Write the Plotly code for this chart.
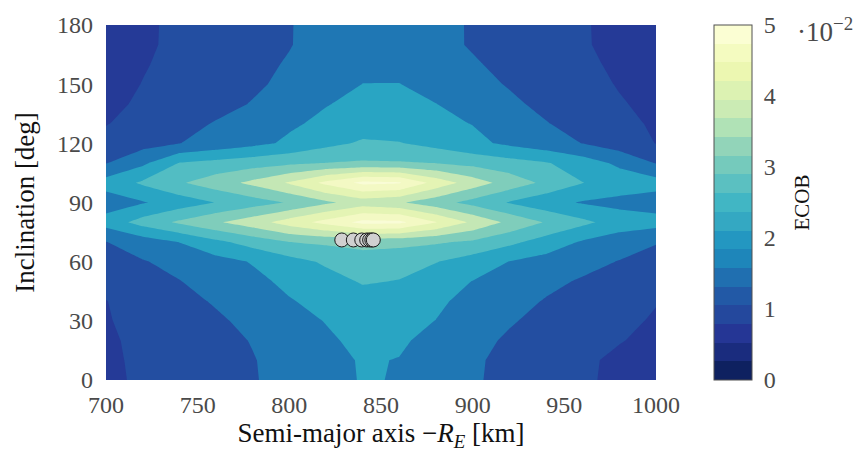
import plotly.graph_objects as go

# ---------------- data ----------------
altitude_km = [700, 720, 740, 760, 780, 800, 820, 840, 860, 880, 900, 920, 940, 960, 980, 1000]
inclination_deg = [0, 10, 20, 30, 40, 50, 60, 70, 80, 90, 100, 110, 120, 130, 140, 150, 160, 170, 180]

# ECOB values in units of 1e-2, one row per inclination
ecob_r000 = [0.92, 1.06, 1.19, 1.33, 1.47, 1.645, 1.84, 2.03, 1.98, 1.76, 1.55, 1.38, 1.22, 1.06, 0.91, 0.85]
ecob_r010 = [0.93, 1.07, 1.20, 1.34, 1.48, 1.65, 1.85, 2.04, 1.985, 1.77, 1.56, 1.39, 1.23, 1.07, 0.92, 0.86]
ecob_r020 = [0.94, 1.09, 1.23, 1.37, 1.52, 1.72, 1.92, 2.13, 2.07, 1.85, 1.63, 1.44, 1.30, 1.16, 1.02, 0.90]
ecob_r030 = [0.97, 1.13, 1.28, 1.43, 1.62, 1.82, 2.02, 2.165, 2.11, 1.995, 1.77, 1.54, 1.38, 1.24, 1.10, 0.955]
ecob_r040 = [0.99, 1.18, 1.36, 1.545, 1.76, 1.97, 2.14, 2.31, 2.23, 2.07, 1.88, 1.67, 1.47, 1.31, 1.16, 1.02]
ecob_r050 = [1.17, 1.33, 1.485, 1.68, 1.885, 2.10, 2.32, 2.54, 2.48, 2.21, 1.99, 1.80, 1.61, 1.45, 1.325, 1.20]
ecob_r060 = [1.35, 1.47, 1.635, 1.83, 2.03, 2.32, 2.57, 2.75, 2.68, 2.52, 2.26, 1.99, 1.82, 1.65, 1.48, 1.38]
ecob_r070 = [1.49, 1.745, 2.01, 2.38, 2.703, 3.0, 3.089, 3.178, 3.14, 3.06, 2.925, 2.625, 2.281, 1.947, 1.733, 1.52]
ecob_r080 = [2.2, 2.696, 3.08, 3.434, 3.788, 4.229, 4.669, 5.15, 5.12, 4.513, 3.915, 3.386, 2.966, 2.62, 2.28, 2.2]
ecob_r090 = [1.75, 1.96, 2.231, 2.515, 2.772, 3.04, 3.408, 3.725, 3.563, 3.204, 2.831, 2.465, 2.172, 1.957, 1.85, 1.75]
ecob_r100 = [2.2, 2.574, 2.944, 3.271, 3.62, 4.057, 4.625, 5.12, 5.05, 4.32, 3.761, 3.289, 2.894, 2.51, 2.3, 2.2]
ecob_r110 = [1.48, 1.896, 2.519, 2.647, 2.776, 2.904, 3.013, 3.067, 3.046, 2.99, 2.846, 2.692, 2.538, 2.25, 1.896, 1.48]
ecob_r120 = [1.15, 1.325, 1.49, 1.685, 1.87, 2.083, 2.361, 2.567, 2.525, 2.337, 2.12, 1.908, 1.704, 1.49, 1.25, 0.99]
ecob_r130 = [0.98, 1.162, 1.345, 1.53, 1.73, 1.93, 2.103, 2.26, 2.217, 2.106, 1.988, 1.756, 1.523, 1.32, 1.12, 0.94]
ecob_r140 = [0.9, 1.061, 1.212, 1.364, 1.523, 1.751, 1.979, 2.118, 2.088, 2.006, 1.801, 1.586, 1.392, 1.212, 1.032, 0.9]
ecob_r150 = [0.85, 1.01, 1.15, 1.29, 1.43, 1.6, 1.8, 2.005, 2.01, 1.833, 1.648, 1.467, 1.3, 1.133, 0.975, 0.85]
ecob_r160 = [0.8, 0.97, 1.114, 1.252, 1.39, 1.537, 1.72, 1.904, 1.839, 1.692, 1.544, 1.39, 1.233, 1.077, 0.932, 0.8]
ecob_r170 = [0.78, 0.939, 1.082, 1.215, 1.349, 1.482, 1.664, 1.853, 1.78, 1.62, 1.464, 1.32, 1.176, 1.032, 0.904, 0.78]
ecob_r180 = [0.77, 0.935, 1.08, 1.213, 1.347, 1.48, 1.66, 1.85, 1.78, 1.62, 1.463, 1.318, 1.174, 1.03, 0.9, 0.77]

ecob = [ecob_r000, ecob_r010, ecob_r020, ecob_r030, ecob_r040, ecob_r050, ecob_r060,
        ecob_r070, ecob_r080, ecob_r090, ecob_r100, ecob_r110, ecob_r120, ecob_r130,
        ecob_r140, ecob_r150, ecob_r160, ecob_r170, ecob_r180]

# satellites (grey markers)
sat_altitude = [828.6, 834.9, 839.5, 842.2, 843.8, 845.0, 845.8]
sat_inclination = [71, 71, 71, 71, 71, 71, 71]

cb_tickvals = [0, 1, 2, 3, 4, 5]
x_tickvals = [700, 750, 800, 850, 900, 950, 1000]
y_tickvals = [0, 30, 60, 90, 120, 150, 180]

# ---------------- styles ----------------
FONT = "Liberation Serif"
TICK_SIZE = 24
TITLE_SIZE = 27
TICK_COLOR = "#4a4a4a"

# colours of filled contour regions: <0.5, 0.5-1, 1-1.5, ..., 4.5-5, >5
region_colors = ["#131f66", "#253a97", "#234ea1", "#1f77b4", "#29a5c3", "#52bdc3",
                 "#7fcdbb", "#c4e7b5", "#e4f4b4", "#f3f9c4", "#f9fcd6"]
n = len(region_colors) - 1
bounds = [0.0] + [round((i + 0.5) / n, 6) for i in range(n)] + [1.0]
region_scale = []
for i, c in enumerate(region_colors):
    region_scale.append([bounds[i], c])
    region_scale.append([bounds[i + 1], c])

# colour bar (19 discrete YlGnBu bands)
cb_colors = ["#0e2160", "#1a2c7e", "#253695", "#24489d", "#2259a6", "#206fb0", "#1e86ba",
             "#2397c1", "#34a8c2", "#41b6c4", "#5bc0c1", "#75cabc", "#92d4b9", "#b0e2b6",
             "#cbebb4", "#dcf2b2", "#ecf7b1", "#f4fbc0", "#fbfed3"]
m = len(cb_colors)
cb_bounds = [round(i / m, 6) for i in range(m)] + [1.0]
cb_scale = []
for i, c in enumerate(cb_colors):
    cb_scale.append([cb_bounds[i], c])
    cb_scale.append([cb_bounds[i + 1], c])

fig = go.Figure()
fig.add_trace(go.Contour(
    x=altitude_km, y=inclination_deg, z=ecob,
    autocontour=False,
    contours=dict(start=0.5, end=5.0, size=0.5, coloring="fill", showlines=False),
    line=dict(width=0, smoothing=0),
    colorscale=region_scale, showscale=False, hoverinfo="skip",
))
fig.add_trace(go.Scatter(
    x=sat_altitude, y=sat_inclination, mode="markers",
    marker=dict(size=14, color="#d0d0d0", line=dict(color="#1a1a1a", width=1)),
    showlegend=False, hoverinfo="skip",
))

plot_w = 860 - 106 - 204
cb_x = (714 - 106) / plot_w
cb_w = 38 / plot_w
fig.add_trace(go.Scatter(
    x=[None], y=[None], mode="markers", showlegend=False, hoverinfo="skip",
    marker=dict(
        color=[0], cmin=0, cmax=5, colorscale=cb_scale, showscale=True,
        colorbar=dict(
            x=cb_x, xanchor="left", xpad=0, y=0.5, yanchor="middle", ypad=0,
            len=1, lenmode="fraction", thickness=38, thicknessmode="pixels",
            outlinecolor="#505050", outlinewidth=1,
            tickvals=cb_tickvals, ticktext=[str(v) for v in cb_tickvals],
            ticks="outside", ticklen=7, tickcolor="rgba(0,0,0,0)",
            tickfont=dict(family=FONT, size=TICK_SIZE, color=TICK_COLOR),
        ),
    ),
))

# inner tick dashes of the colour bar (both sides)
for v in cb_tickvals[1:-1]:
    for x0, x1 in ((cb_x, cb_x + 9 / plot_w), (cb_x + cb_w - 9 / plot_w, cb_x + cb_w)):
        fig.add_shape(type="line", xref="paper", yref="paper",
                      x0=x0, x1=x1, y0=v / 5, y1=v / 5,
                      line=dict(color="#8a8a8a", width=1.5))

fig.add_annotation(text="·10<sup>−2</sup>", xref="paper", yref="paper",
                   x=(795 - 106) / plot_w, y=(380 - 19) / 366, xanchor="left", yanchor="middle",
                   showarrow=False, font=dict(family=FONT, size=27, color=TICK_COLOR))
fig.add_annotation(text="ECOB", xref="paper", yref="paper", textangle=-90,
                   x=(801 - 106) / plot_w, y=0.5, xanchor="center", yanchor="middle",
                   showarrow=False, font=dict(family=FONT, size=21, color="#111111"))

fig.update_layout(
    width=860, height=466,
    margin=dict(l=106, r=204, t=14, b=86),
    paper_bgcolor="white", plot_bgcolor="white",
    font=dict(family=FONT, size=TICK_SIZE, color=TICK_COLOR),
    showlegend=False,
    xaxis=dict(range=[700, 1000], tickvals=x_tickvals, showgrid=False, zeroline=False,
               showline=False, ticks="", ticklabelstandoff=8,
               tickfont=dict(family=FONT, size=TICK_SIZE, color=TICK_COLOR),
               title=dict(text="Semi-major axis −<i>R</i><sub><i>E</i></sub> [km]",
                          font=dict(family=FONT, size=TITLE_SIZE, color="#111111"), standoff=6)),
    yaxis=dict(range=[0, 180], tickvals=y_tickvals, showgrid=False, zeroline=False,
               showline=False, ticks="", ticklabelstandoff=12,
               tickfont=dict(family=FONT, size=TICK_SIZE, color=TICK_COLOR),
               title=dict(text="Inclination [deg]",
                          font=dict(family=FONT, size=TITLE_SIZE, color="#111111"), standoff=14)),
)

fig.write_html("out.html")
